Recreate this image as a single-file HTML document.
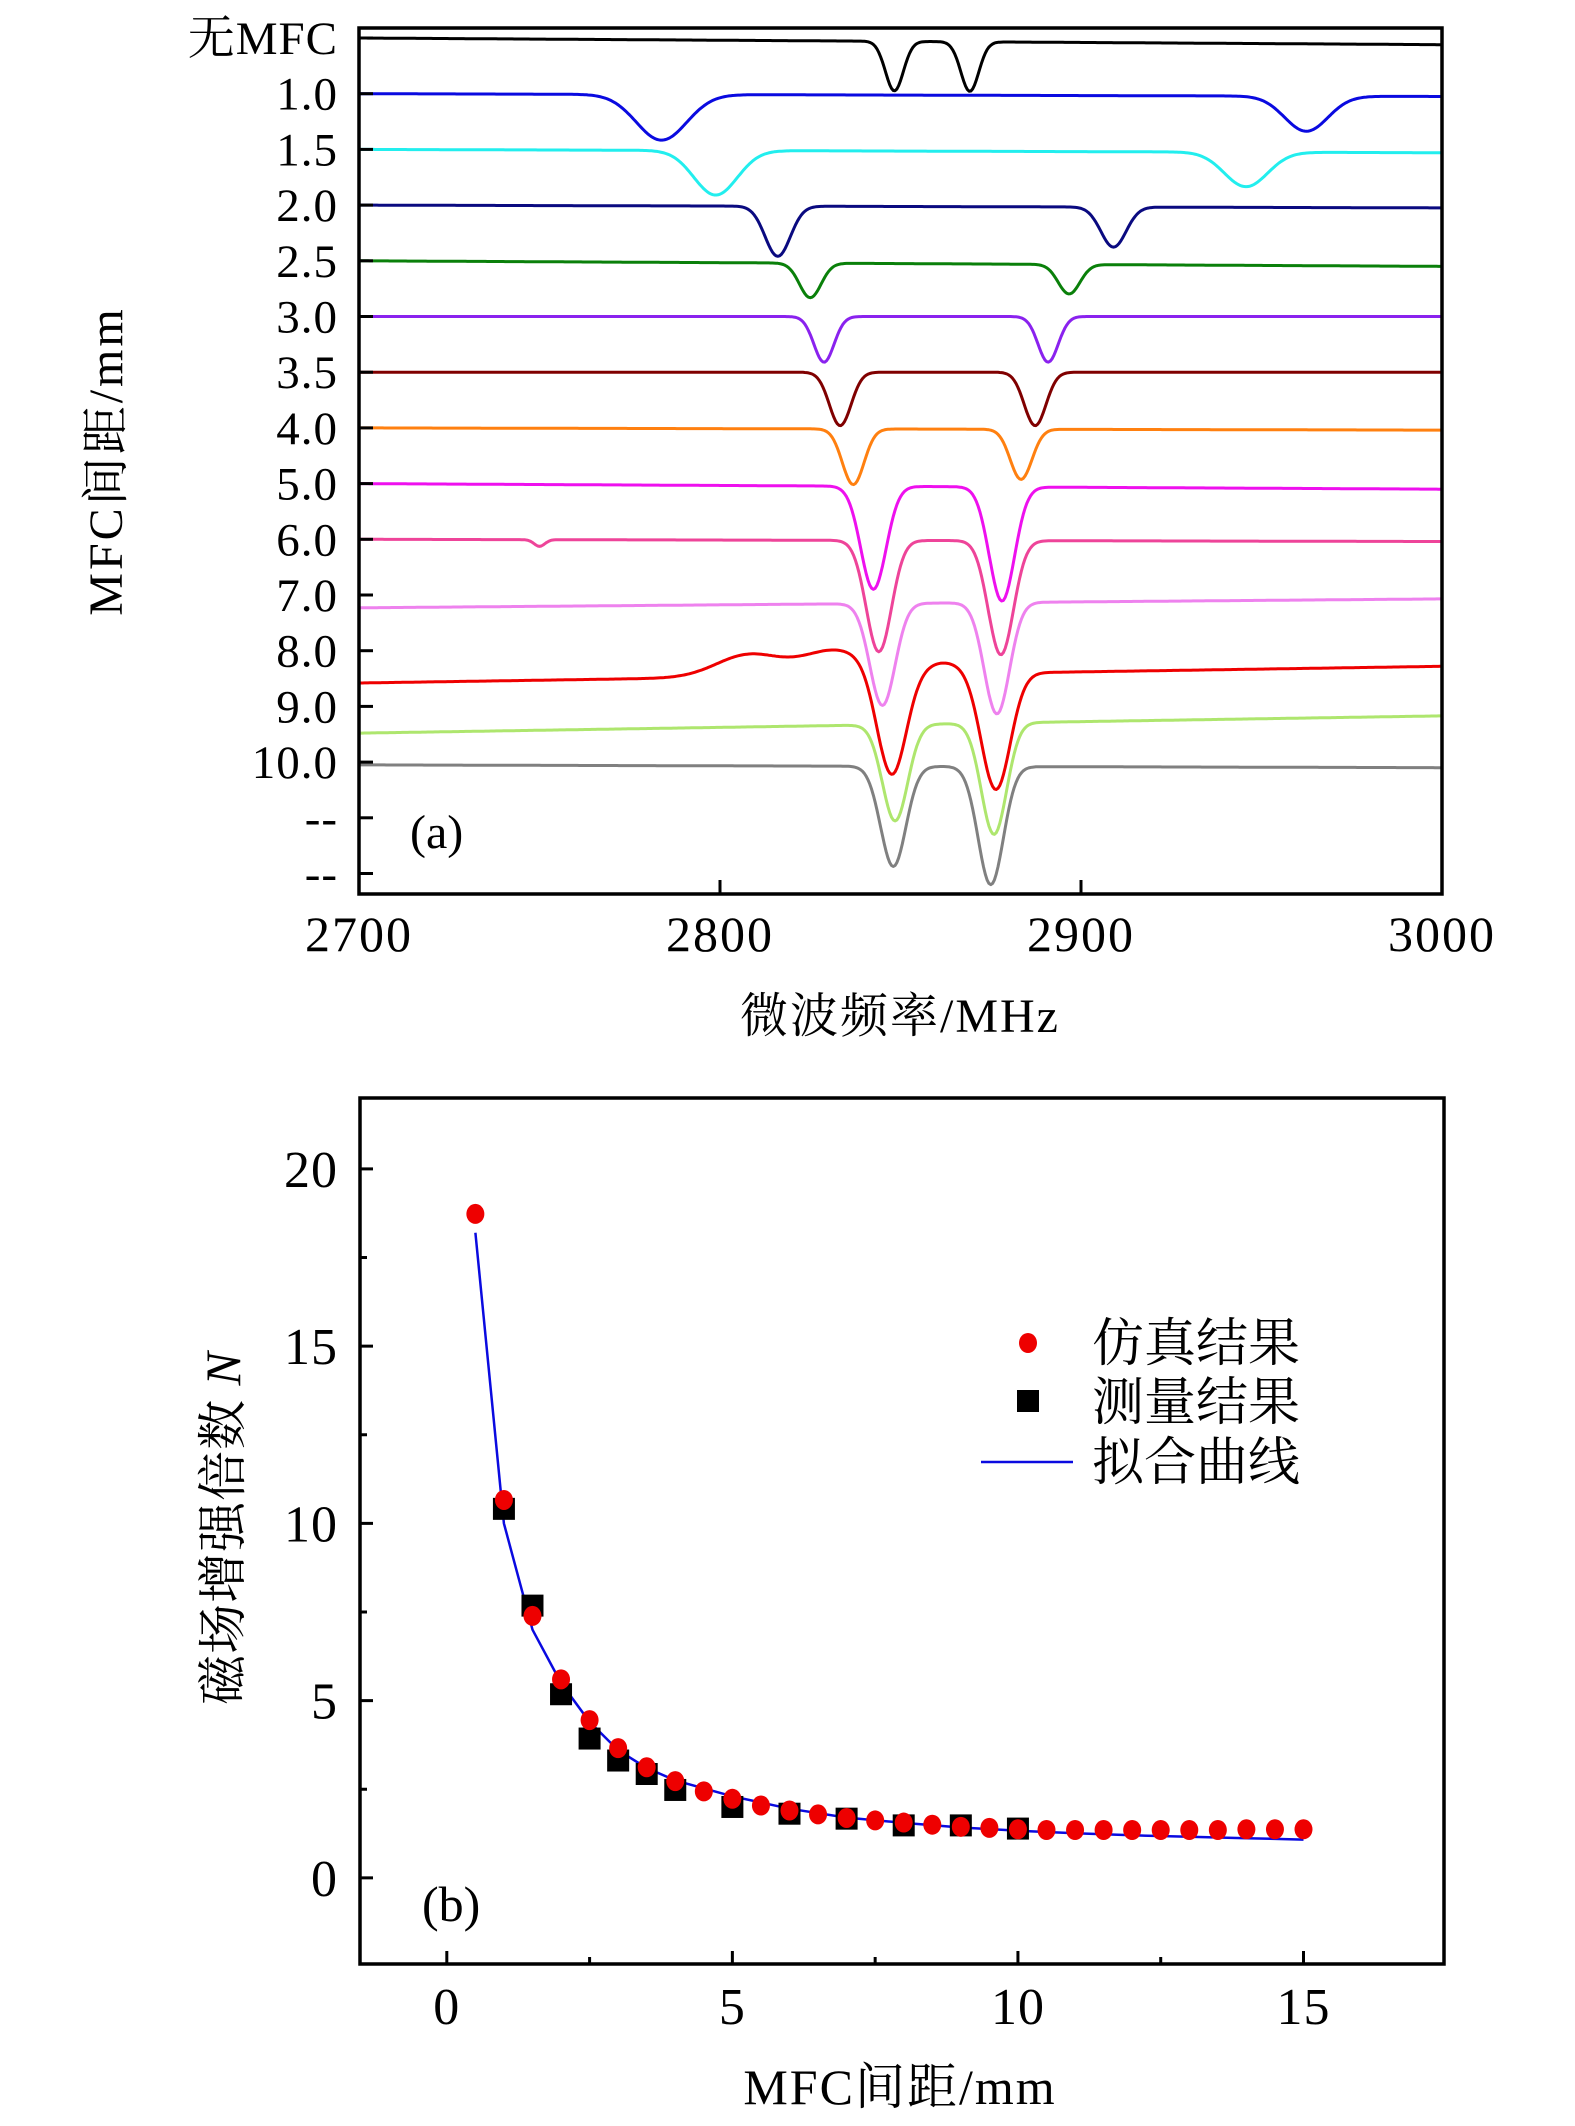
<!DOCTYPE html>
<html><head><meta charset="utf-8"><style>
html,body{margin:0;padding:0;background:#fff;}
svg{display:block;}
text{font-family:"Liberation Serif","Noto Serif CJK SC",serif;fill:#000;}
</style></head><body>
<svg id="fig" xmlns="http://www.w3.org/2000/svg" width="1575" height="2126" viewBox="0 0 1575 2126">
<g id="chartA"></g>
<g id="chartB"></g>
</svg>
<script>
// ---------- Chart (a) data ----------
const aLabels = ["无MFC","1.0","1.5","2.0","2.5","3.0","3.5","4.0","5.0","6.0","7.0","8.0","9.0","10.0","--","--"];
const aXTicks = [2700,2800,2900,3000];
const aColors = ["#000000","#0a0ae0","#22eeee","#0a0a80","#0a800a","#8a22ee","#800000","#ff8010","#ee10ee","#ee4499","#ee82ee","#ee0000","#aee66e","#808080"];
const aBaseStart = [0,0,0,0,0,0,0,0,0,0,0.23,0.58,0.48,0.05];
const aBaseEnd   = [0.12,0.05,0.06,0.05,0.1,0,0,0.04,0.1,0.04,0.07,0.28,0.17,0.1];
const aDipCenters = [[2848.3,2869.2],[2783.8,2962.4],[2798.8,2945.7],[2816,2909],[2825,2896.7],[2828.8,2890.9],[2833.3,2887.3],[2836.9,2883.4],[2842.5,2878.1],[2844,2877.8,2750],[2845,2876.7],[2847.5,2876.4,2808,2832,2862],[2848.5,2875.9],[2848,2875]];
const aDipDepths  = [[0.89,0.89],[0.82,0.63],[0.8,0.62],[0.9,0.72],[0.62,0.53],[0.82,0.82],[0.96,0.96],[1.0,0.9],[1.85,2.05],[2.0,2.05,0.12],[1.83,2.0],[1.9,2.1,-0.4,-0.45,-0.2],[1.73,2.0],[1.8,2.12]];
const aDipSigmas  = [[2.5,2.5],[7,6],[6,6],[3.5,3.5],[3,3],[2.8,2.8],[3,3],[3,3],[3.5,3.5],[3.5,3.5,1.5],[3.5,3.5],[4,4,9,9,6],[3.5,3.5],[3.5,3.5]];

// ---------- Chart (b) data ----------
const bSimX = [0.5,1,1.5,2,2.5,3,3.5,4,4.5,5,5.5,6,6.5,7,7.5,8,8.5,9,9.5,10,10.5,11,11.5,12,12.5,13,13.5,14,14.5,15];
const bSimY = [18.73,10.66,7.39,5.6,4.45,3.66,3.12,2.73,2.44,2.23,2.04,1.9,1.79,1.69,1.62,1.56,1.5,1.44,1.41,1.37,1.35,1.35,1.35,1.35,1.35,1.35,1.35,1.37,1.37,1.37];
const bMeasX = [1,1.5,2,2.5,3,3.5,4,5,6,7,8,9,10];
const bMeasY = [10.41,7.68,5.18,3.93,3.31,2.93,2.48,2.0,1.81,1.67,1.48,1.48,1.39];
const bFitX = [0.5,1,1.5,2,2.5,3,3.5,4,5,6,7,8,9,10,11,12,13,14,15];
const bFitY = [18.2,10.0,7.0,5.5,4.4,3.6,3.1,2.75,2.3,1.95,1.7,1.55,1.42,1.33,1.26,1.2,1.16,1.12,1.08];
const bXTicks = [0,5,10,15];
const bYTicks = [0,5,10,15,20];

const NS="http://www.w3.org/2000/svg";
function mk(parent,tag,attrs,txt){const e=document.createElementNS(NS,tag);for(const k in attrs)e.setAttribute(k,attrs[k]);if(txt!==undefined)e.textContent=txt;parent.appendChild(e);return e;}

// ---------- Chart (a) ----------
const A=document.getElementById('chartA');
const aL=359,aR=1442,aT=28,aB=894,aTick0=38,aStep=55.7;
const ax=f=>aL+(f-2700)/(3000-2700)*(aR-aL);
const ayRow=i=>aTick0+i*aStep;
for(let i=0;i<aColors.length;i++){
  let d="";
  for(let f=2700;f<=3000.001;f+=0.5){
    let v=aBaseStart[i]+(aBaseEnd[i]-aBaseStart[i])*(f-2700)/300;
    for(let k=0;k<aDipCenters[i].length;k++){
      const c=aDipCenters[i][k],s=aDipSigmas[i][k];
      v+=aDipDepths[i][k]*Math.exp(-(f-c)*(f-c)/(2*s*s));
    }
    const y=ayRow(i)+v*aStep;
    d+=(d?"L":"M")+ax(f).toFixed(1)+" "+y.toFixed(1);
  }
  const p=mk(A,'path',{d:d,fill:'none',stroke:aColors[i],'stroke-width':3,'stroke-linejoin':'round'});
  
  
}
const aFrame=mk(A,'rect',{x:aL,y:aT,width:aR-aL,height:aB-aT,fill:'none',stroke:'#000','stroke-width':3.5});


for(let i=0;i<aLabels.length;i++){
  const y=ayRow(i);
  const t=mk(A,'line',{x1:aL,x2:aL+14,y1:y,y2:y,stroke:'#000','stroke-width':3});
  
  
  const l=mk(A,'text',{x:338,y:y+16,'font-size':47,'letter-spacing':1,'text-anchor':'end'},aLabels[i]);
  
  
}
for(const v of aXTicks){
  const x=ax(v);
  if(v>2700&&v<3000){const t=mk(A,'line',{x1:x,x2:x,y1:aB,y2:aB-14,stroke:'#000','stroke-width':3});
  
  }
  const l=mk(A,'text',{x:x,y:951,'font-size':50,'letter-spacing':2,'text-anchor':'middle'},String(v));
  
  
}
let e;
e=mk(A,'text',{x:900,y:1032,'font-size':48,'letter-spacing':2,'text-anchor':'middle'},'微波频率/MHz');


e=mk(A,'text',{x:0,y:0,'font-size':48,'letter-spacing':3,'text-anchor':'middle',transform:'translate(122,461) rotate(-90)'},'MFC间距/mm');


e=mk(A,'text',{x:410,y:848,'font-size':48},'(a)');



// ---------- Chart (b) ----------
const B=document.getElementById('chartB');
const bL=360,bR=1444,bT=1098,bB=1964,xMin=-1.52,xMax=17.46,yMin=-2.43,yMax=22;
const bx=v=>bL+(v-xMin)/(xMax-xMin)*(bR-bL);
const by=v=>bB-(v-yMin)/(yMax-yMin)*(bB-bT);
const bFrame=mk(B,'rect',{x:bL,y:bT,width:bR-bL,height:bB-bT,fill:'none',stroke:'#000','stroke-width':3.5});


for(let v=0;v<=20;v+=2.5){
  const major=v%5===0;const y=by(v);
  const t=mk(B,'line',{x1:bL,x2:bL+(major?13:7),y1:y,y2:y,stroke:'#000','stroke-width':3});
  
  
}
for(const v of bYTicks){
  const l=mk(B,'text',{x:338,y:by(v)+18,'font-size':52,'letter-spacing':1,'text-anchor':'end'},String(v));
  
  
}
for(let v=0;v<=15;v+=2.5){
  const major=v%5===0;const x=bx(v);
  const t=mk(B,'line',{x1:x,x2:x,y1:bB,y2:bB-(major?13:7),stroke:'#000','stroke-width':3});
  
  
}
for(const v of bXTicks){
  const l=mk(B,'text',{x:bx(v),y:2024,'font-size':52,'letter-spacing':1,'text-anchor':'middle'},String(v));
  
  
}
let fd="";
for(let i=0;i<bFitX.length;i++){fd+=(i?"L":"M")+bx(bFitX[i]).toFixed(1)+" "+by(bFitY[i]).toFixed(1);}
e=mk(B,'path',{d:fd,fill:'none',stroke:'#0a0ae0','stroke-width':2.5});


for(let i=0;i<bMeasX.length;i++){
  const s=mk(B,'rect',{x:bx(bMeasX[i])-11,y:by(bMeasY[i])-11,width:22,height:22,fill:'#000'});
  
  
}
for(let i=0;i<bSimX.length;i++){
  const c=mk(B,'ellipse',{cx:bx(bSimX[i]),cy:by(bSimY[i]),rx:9,ry:10,fill:'#ee0000'});
  
  
}
// legend
e=mk(B,'ellipse',{cx:1028,cy:1343,rx:9,ry:10,fill:'#ee0000'});


e=mk(B,'text',{x:1092,y:1361,'font-size':52},'仿真结果');


e=mk(B,'rect',{x:1017,y:1390,width:22,height:22,fill:'#000'});


e=mk(B,'text',{x:1092,y:1420,'font-size':52},'测量结果');


e=mk(B,'line',{x1:981,x2:1073,y1:1462,y2:1462,stroke:'#0a0ae0','stroke-width':2.5});


e=mk(B,'text',{x:1092,y:1480,'font-size':52},'拟合曲线');


e=mk(B,'text',{x:900,y:2104,'font-size':50,'letter-spacing':2,'text-anchor':'middle'},'MFC间距/mm');


const yt=mk(B,'text',{x:0,y:0,'font-size':50,'letter-spacing':1,'text-anchor':'middle',transform:'translate(240,1528) rotate(-90)'});


mk(yt,'tspan',{},'磁场增强倍数 ');
mk(yt,'tspan',{'font-style':'italic'},'N');
e=mk(B,'text',{x:422,y:1921,'font-size':50},'(b)');


</script>
</body></html>
